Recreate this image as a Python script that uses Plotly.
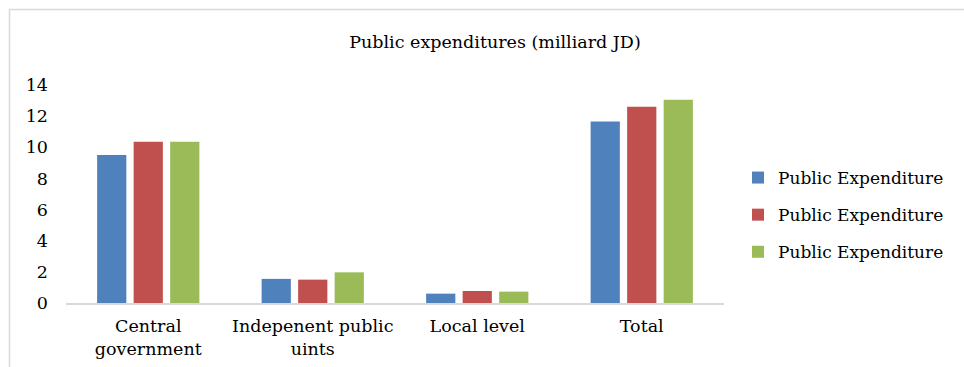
import plotly.graph_objects as go

categories = ["Central<br>government", "Indepenent public<br>uints", "Local level", "Total"]
series_names = ["Public Expenditure", "Public Expenditure", "Public Expenditure"]
series1 = [9.5, 1.55, 0.6, 11.65]
series2 = [10.35, 1.5, 0.77, 12.6]
series3 = [10.35, 1.97, 0.73, 13.05]
colors = ["#4F81BD", "#C0504D", "#9BBB59"]
y_ticks = [0, 2, 4, 6, 8, 10, 12, 14]

FONT = "DejaVu Serif"

fig = go.Figure()
for i, (name, vals, col) in enumerate(zip(series_names, [series1, series2, series3], colors)):
    fig.add_trace(go.Bar(x=categories, y=vals, name=name, marker_color=col,
                         marker_line_width=0, legendgroup=f"g{i}"))

W, H = 964, 367
L, R, T, B = 66, 240, 85, 64
pw = W - L - R
ph = H - T - B

def px(x):
    return (x - L) / pw

def py(y):
    return (H - B - y) / ph

fig.update_layout(
    width=W, height=H,
    margin=dict(l=L, r=R, t=T, b=B, pad=0, autoexpand=False),
    paper_bgcolor="white", plot_bgcolor="white",
    barmode="group", bargap=0.334, bargroupgap=0.2,
    font=dict(family=FONT, size=17.5, color="#000000"),
    title=dict(text="Public expenditures (milliard JD)", x=px(495), xref="paper",
               xanchor="center", y=1 - 42 / H, yanchor="middle",
               font=dict(family=FONT, size=17.5, color="#000000")),
    showlegend=True,
    legend=dict(x=px(738), xref="paper", y=py(215), yref="paper", yanchor="middle",
                xanchor="left", traceorder="grouped", itemwidth=30,
                font=dict(family=FONT, size=17), tracegroupgap=12,
                bgcolor="rgba(0,0,0,0)", borderwidth=0),
    xaxis=dict(showline=True, linecolor="#D9D9D9", linewidth=2, ticks="",
               showgrid=False, tickfont=dict(family=FONT, size=17.5),
               ticklabelstandoff=6, automargin=False),
    yaxis=dict(range=[0, 14], tickvals=y_ticks, showgrid=False, zeroline=False,
               showline=False, ticks="", tickfont=dict(family=FONT, size=17.5),
               ticklabelstandoff=17, automargin=False),
    shapes=[
        dict(type="line", xref="paper", yref="paper", x0=px(9), x1=px(964),
             y0=py(9.5), y1=py(9.5), line=dict(color="#D9D9D9", width=1.5)),
        dict(type="line", xref="paper", yref="paper", x0=px(9.5), x1=px(9.5),
             y0=py(9), y1=py(367), line=dict(color="#D9D9D9", width=1.5)),
    ],
)

fig.write_html("out.html")
